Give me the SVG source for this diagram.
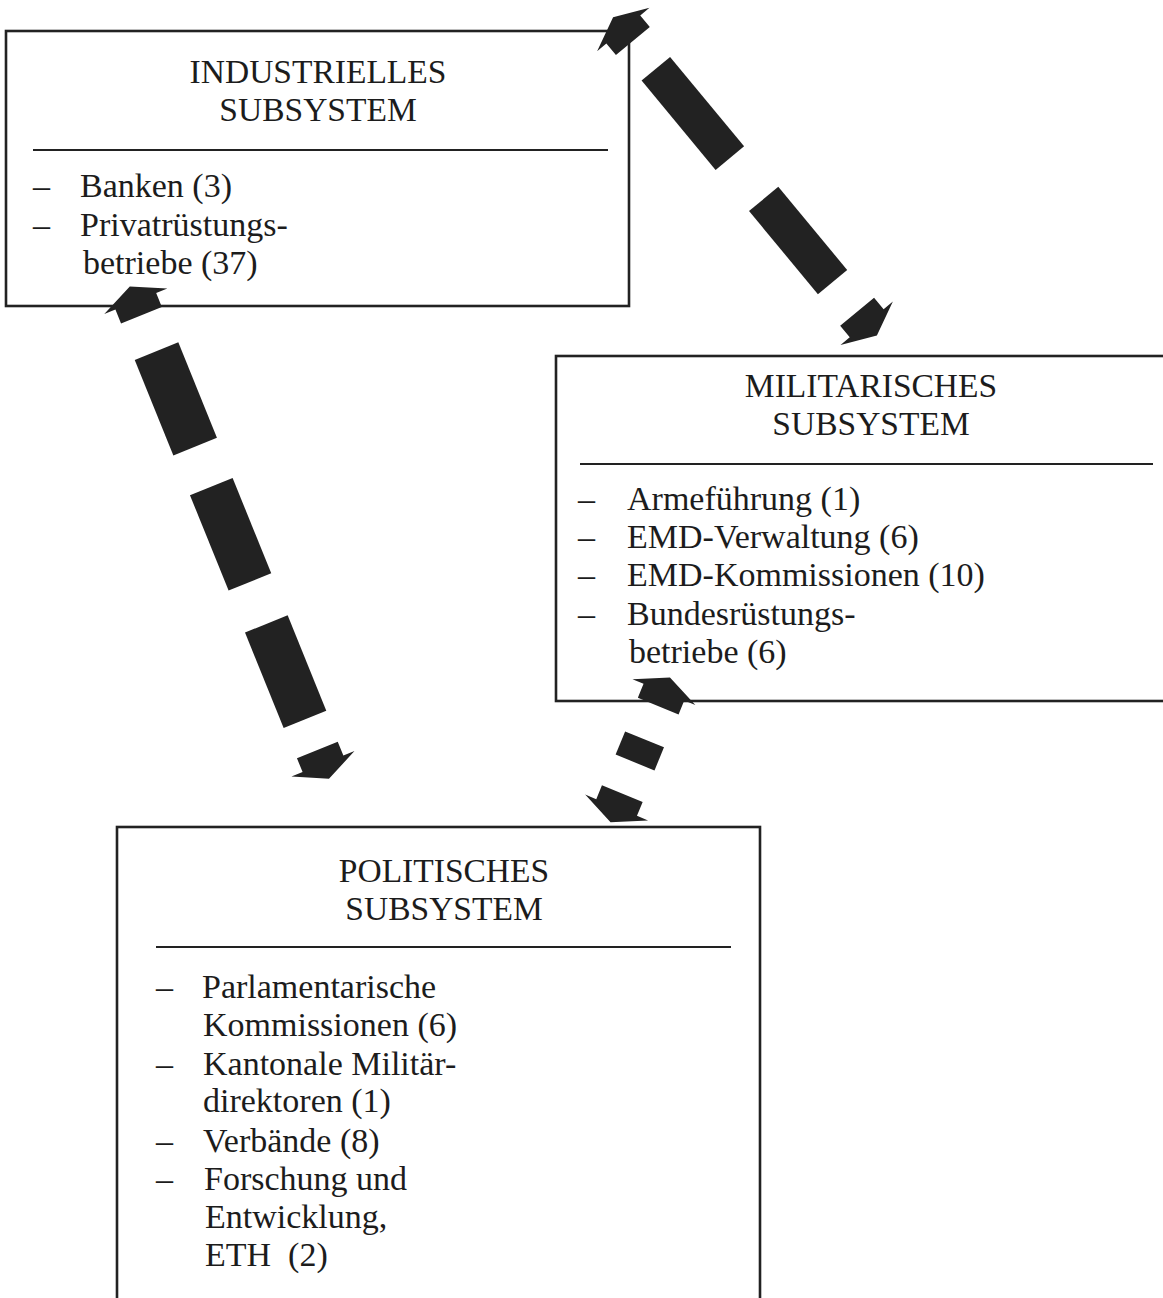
<svg xmlns="http://www.w3.org/2000/svg" xmlns:xlink="http://www.w3.org/1999/xlink" width="1163" height="1298" viewBox="0 0 1163 1298">
<style>
.box{fill:none;stroke:#222;stroke-width:2.6}
.div{stroke:#222;stroke-width:2}
.t{font-family:"Liberation Serif","Times New Roman",serif;font-size:33.5px;fill:#1c1c1c;text-anchor:middle}
.i{font-family:"Liberation Serif","Times New Roman",serif;font-size:34px;fill:#1c1c1c}
.ar{fill:#222}
</style>
<defs>
<path id="head" d="M16,0 L0,34 L0,22 L-15,22 L-15,-22 L0,-22 L0,-34 Z"/>
</defs>
<rect width="1163" height="1298" fill="#fff"/>
<g id="industrielles">
<rect class="box" x="6" y="31" width="623" height="275"/>
<line class="div" x1="33" y1="150" x2="608" y2="150"/>
<text class="t" x="318" y="83">INDUSTRIELLES</text>
<text class="t" x="318" y="121">SUBSYSTEM</text>
<text class="i" x="33" y="197">–</text>
<text class="i" x="80" y="197">Banken (3)</text>
<text class="i" x="33" y="236">–</text>
<text class="i" x="80" y="236">Privatrüstungs-</text>
<text class="i" x="83" y="274">betriebe (37)</text>
</g>
<g id="militarisches">
<rect class="box" x="556" y="356" width="640" height="345"/>
<line class="div" x1="580" y1="464" x2="1153" y2="464"/>
<text class="t" x="871" y="397">MILITARISCHES</text>
<text class="t" x="871" y="435">SUBSYSTEM</text>
<text class="i" x="578" y="510">–</text>
<text class="i" x="627" y="510">Armeführung (1)</text>
<text class="i" x="578" y="548">–</text>
<text class="i" x="627" y="548">EMD-Verwaltung (6)</text>
<text class="i" x="578" y="586">–</text>
<text class="i" x="627" y="586">EMD-Kommissionen (10)</text>
<text class="i" x="578" y="625">–</text>
<text class="i" x="627" y="625">Bundesrüstungs-</text>
<text class="i" x="629" y="663">betriebe (6)</text>
</g>
<g id="politisches">
<rect class="box" x="117" y="827" width="643" height="490"/>
<line class="div" x1="156" y1="947" x2="731" y2="947"/>
<text class="t" x="444" y="882">POLITISCHES</text>
<text class="t" x="444" y="920">SUBSYSTEM</text>
<text class="i" x="156" y="998">–</text>
<text class="i" x="202" y="998">Parlamentarische</text>
<text class="i" x="203" y="1036">Kommissionen (6)</text>
<text class="i" x="156" y="1075">–</text>
<text class="i" x="203" y="1075">Kantonale Militär-</text>
<text class="i" x="203" y="1112">direktoren (1)</text>
<text class="i" x="156" y="1152">–</text>
<text class="i" x="203" y="1152">Verbände (8)</text>
<text class="i" x="156" y="1190">–</text>
<text class="i" x="204" y="1190">Forschung und</text>
<text class="i" x="205" y="1228">Entwicklung,</text>
<text class="i" x="205" y="1266" xml:space="preserve">ETH  (2)</text>
</g>
<g id="connectors" class="ar">
<g id="ind-mil" transform="translate(623.3,29.5) rotate(50.36)">
<use xlink:href="#head" transform="rotate(180)"/>
<rect x="51" y="-18.5" width="116" height="37"/>
<rect x="220" y="-19" width="108" height="38"/>
<use xlink:href="#head" transform="translate(381.5,0)"/>
</g>
<g id="ind-pol" transform="translate(135.8,301.3) rotate(67.97)">
<use xlink:href="#head" transform="rotate(180)"/>
<rect x="54" y="-24" width="103" height="47"/>
<rect x="200" y="-23.5" width="103" height="46"/>
<rect x="348" y="-23" width="103" height="46"/>
<use xlink:href="#head" transform="translate(499,0)"/>
</g>
<g id="mil-pol" transform="translate(663.9,692.2) rotate(112.3)">
<use xlink:href="#head" transform="rotate(180)"/>
<rect x="51" y="-21" width="25" height="42"/>
<use xlink:href="#head" transform="translate(124.6,0)"/>
</g>
</g>
</svg>
